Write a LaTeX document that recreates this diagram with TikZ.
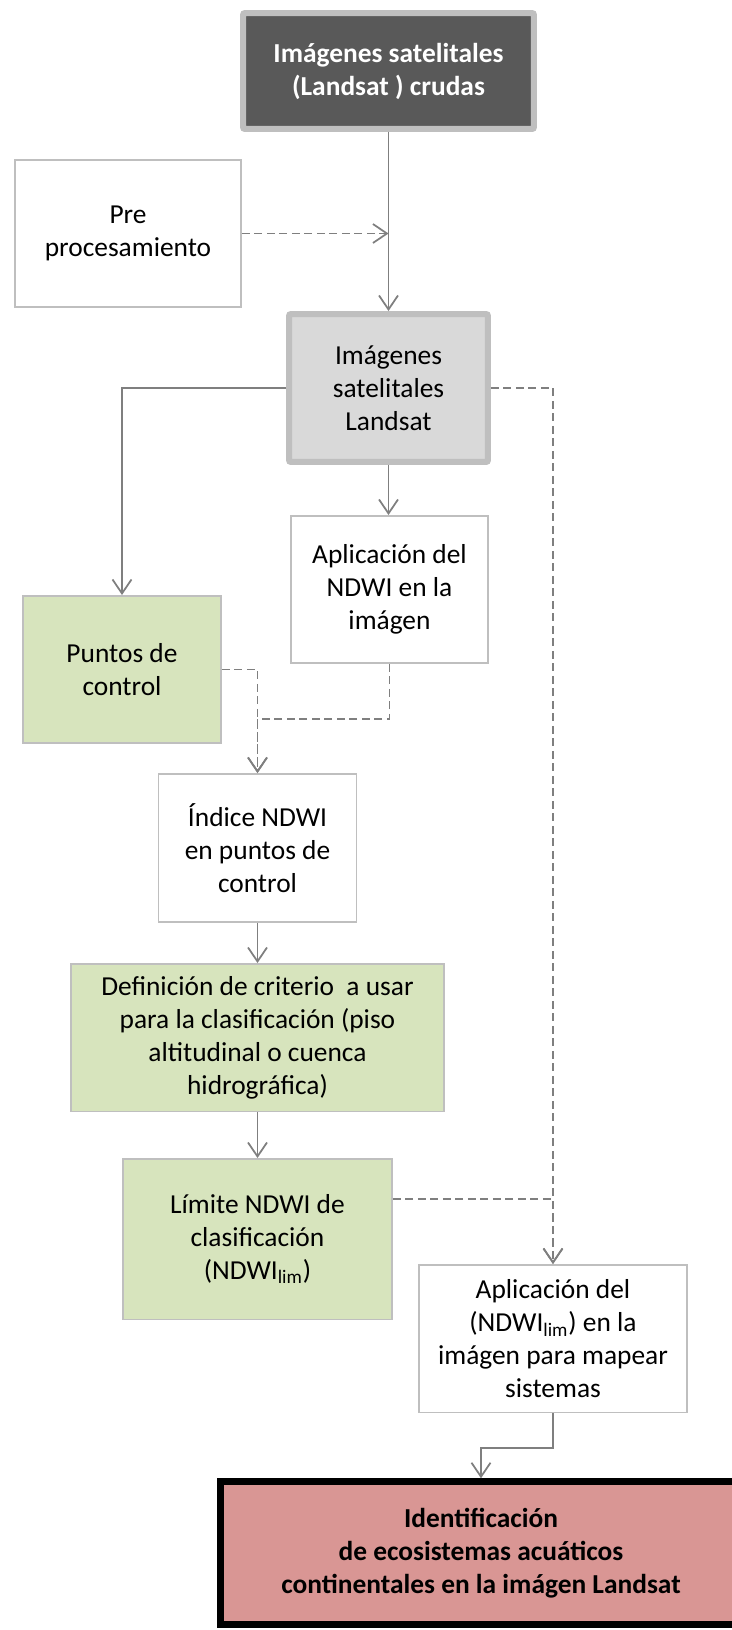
\documentclass[tikz,border=0pt]{standalone}
\usepackage{fontspec}
\setmainfont{Carlito}
\usepackage{xcolor}
\usetikzlibrary{arrows.meta,positioning}

\definecolor{boxgray}{HTML}{BFBFBF}
\definecolor{linegray}{HTML}{7F7F7F}
\definecolor{darkfill}{HTML}{595959}
\definecolor{lightfill}{HTML}{D9D9D9}
\definecolor{boxgreen}{HTML}{D7E4BD}
\definecolor{boxred}{HTML}{D99694}

\begin{document}
\begin{tikzpicture}[x=0.02cm,y=-0.02cm,
    box/.style={draw=boxgray,line width=0.03cm,align=center,inner sep=0pt,
      minimum width=3.97cm,minimum height=2.95cm,
      font=\fontsize{15.6}{18.8}\selectfont},
    greenbox/.style={box,fill=boxgreen},
    thickbox/.style={box,line width=0.12cm,rounded corners=0.04cm},
    flow/.style={draw=linegray,line width=0.035cm,-{Straight Barb[length=0.28cm,width=0.38cm]}},
    dflow/.style={flow,dash pattern=on 0.16cm off 0.09cm}]

    \useasboundingbox (0,0) rectangle (731,1630);

    \node[thickbox,fill=darkfill,text=white,font=\fontsize{15.6}{18.8}\selectfont\bfseries,
      minimum width=5.82cm,minimum height=2.32cm] (crudas) at (388.5,71)
      {Imágenes satelitales\\(Landsat ) crudas};
    \node[box,minimum width=4.53cm] (pre) at (128,233.5) {Pre\\procesamiento};
    \node[thickbox,fill=lightfill,minimum width=3.98cm,minimum height=2.96cm] (landsat) at (388.5,388)
      {Imágenes\\satelitales\\Landsat};
    \node[box,minimum width=3.95cm] (aplic) at (389.5,589.5) {Aplicación del\\NDWI en la\\imágen};
    \node[greenbox] (puntos) at (122,669.5) {Puntos de\\control};
    \node[box,minimum height=2.97cm] (indice) at (257.5,848) {Índice NDWI\\en puntos de\\control};
    \node[greenbox,minimum width=7.47cm] (criterio) at (257.5,1037.5)
      {Definición de criterio~ a usar\\para la clasificación (piso\\altitudinal o cuenca\\hidrográfica)};
    \node[greenbox,minimum width=5.39cm,minimum height=3.21cm] (limite) at (257.5,1239)
      {Límite NDWI de\\clasificación\\(NDWI\textsubscript{lim})};
    \node[box,minimum width=5.37cm] (mapeo) at (553,1338.5)
      {Aplicación del\\(NDWI\textsubscript{lim}) en la\\imágen para mapear\\sistemas};
    \node[box,draw=black,fill=boxred,line width=0.14cm,font=\fontsize{15.6}{18.8}\selectfont\bfseries,
      minimum width=10.42cm,minimum height=2.85cm] (final) at (481,1553)
      {Identificación\\de ecosistemas acuáticos\\continentales en la imágen Landsat};

    \coordinate (prejoin) at (388.5,233.5);
    \coordinate (join) at (257.5,719);

    \draw[flow] (crudas) -- (landsat);
    \draw[dflow] (pre.east) -- (prejoin);
    \draw[flow] (landsat.west) -| (puntos.north);
    \draw[dflow] (landsat.east) -| (mapeo.north);
    \draw[flow] (landsat.south) -- (landsat.south |- aplic.north);
    \draw[dflow] (puntos.east) -| (indice.north);
    \draw[dflow] (aplic.south) |- (join) -- (indice.north);
    \draw[flow] (indice) -- (criterio);
    \draw[flow] (criterio) -- (limite);
    \draw[dflow] ([yshift=0.8cm]limite.east) -| (mapeo.north);
    \draw[flow] (mapeo.south) -- ++(0,35) -| (final.north);
\end{tikzpicture}
\end{document}
